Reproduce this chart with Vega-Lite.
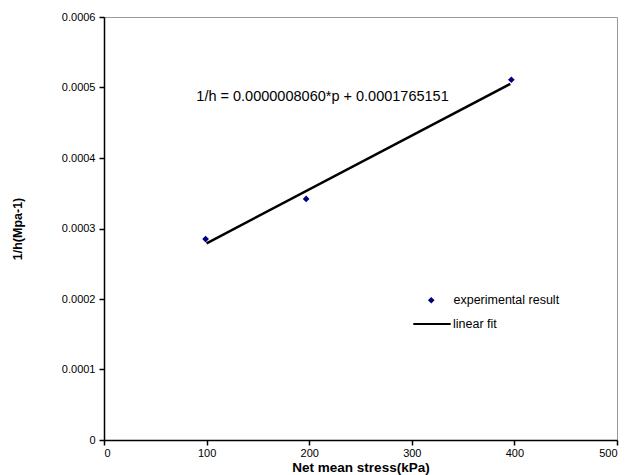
{
  "$schema": "https://vega.github.io/schema/vega-lite/v6.json",
  "autosize": "none",
  "width": 513,
  "height": 423,
  "padding": {"left": 104, "top": 17, "right": 16, "bottom": 35},
  "background": "white",
  "config": {
    "font": "Liberation Sans",
    "view": {"stroke": "#999999", "strokeWidth": 1},
    "axis": {"grid": false, "domainColor": "black", "tickColor": "black", "labelColor": "black", "titleColor": "black", "labelFontSize": 11, "titleFontSize": 12.5, "titleFontWeight": "bold", "tickSize": 5, "domainWidth": 1.5, "tickWidth": 1.5}
  },
  "datasets": {
    "obs": [
      {"p": 99, "inv_h": 0.000285, "series": "experimental result"},
      {"p": 197, "inv_h": 0.000342, "series": "experimental result"},
      {"p": 397, "inv_h": 0.000511, "series": "experimental result"}
    ],
    "fit": [
      {"p": 100, "inv_h": 0.000279, "fit": "linear fit"},
      {"p": 396, "inv_h": 0.000505, "fit": "linear fit"}
    ],
    "note": [
      {"p": 90, "inv_h": 0.000486, "label": "1/h = 0.0000008060*p + 0.0001765151"}
    ]
  },
  "layer": [
    {
      "data": {"name": "fit"},
      "mark": {"type": "line", "strokeWidth": 2.5},
      "encoding": {
        "x": {"field": "p", "type": "quantitative", "scale": {"domain": [0, 500]}, "axis": {"values": [0, 100, 200, 300, 400, 500], "title": "Net mean stress(kPa)", "titleFontSize": 13.5, "labelPadding": 2, "titlePadding": 2}},
        "y": {"field": "inv_h", "type": "quantitative", "scale": {"domain": [0, 0.0006]}, "axis": {"values": [0, 0.0001, 0.0002, 0.0003, 0.0004, 0.0005, 0.0006], "labelExpr": "datum.value == 0 ? '0' : format(datum.value, '.4f')", "title": "1/h(Mpa-1)", "titlePadding": 37, "labelPadding": 4}},
        "stroke": {"field": "fit", "type": "nominal", "scale": {"domain": ["linear fit"], "range": ["black"]}, "legend": {"title": null, "orient": "none", "legendX": 308, "legendY": 287, "padding": 0, "symbolType": "stroke", "symbolSize": 1400, "symbolStrokeWidth": 2, "labelOffset": 1, "labelFontSize": 12.5, "labelColor": "black"}}
      }
    },
    {
      "data": {"name": "obs"},
      "mark": {"type": "point", "filled": true, "color": "#000080", "size": 45, "opacity": 1},
      "encoding": {
        "x": {"field": "p", "type": "quantitative"},
        "y": {"field": "inv_h", "type": "quantitative"},
        "shape": {"field": "series", "type": "nominal", "scale": {"domain": ["experimental result"], "range": ["diamond"]}, "legend": {"title": null, "orient": "none", "legendX": 321, "legendY": 277, "padding": 0, "symbolFillColor": "#000080", "symbolStrokeColor": "#000080", "symbolSize": 45, "labelOffset": 16, "labelFontSize": 12.5, "labelColor": "black"}}
      }
    },
    {
      "data": {"name": "note"},
      "mark": {"type": "text", "align": "left", "baseline": "middle", "fontSize": 14.5, "color": "black"},
      "encoding": {
        "x": {"field": "p", "type": "quantitative"},
        "y": {"field": "inv_h", "type": "quantitative"},
        "text": {"field": "label"}
      }
    }
  ]
}
